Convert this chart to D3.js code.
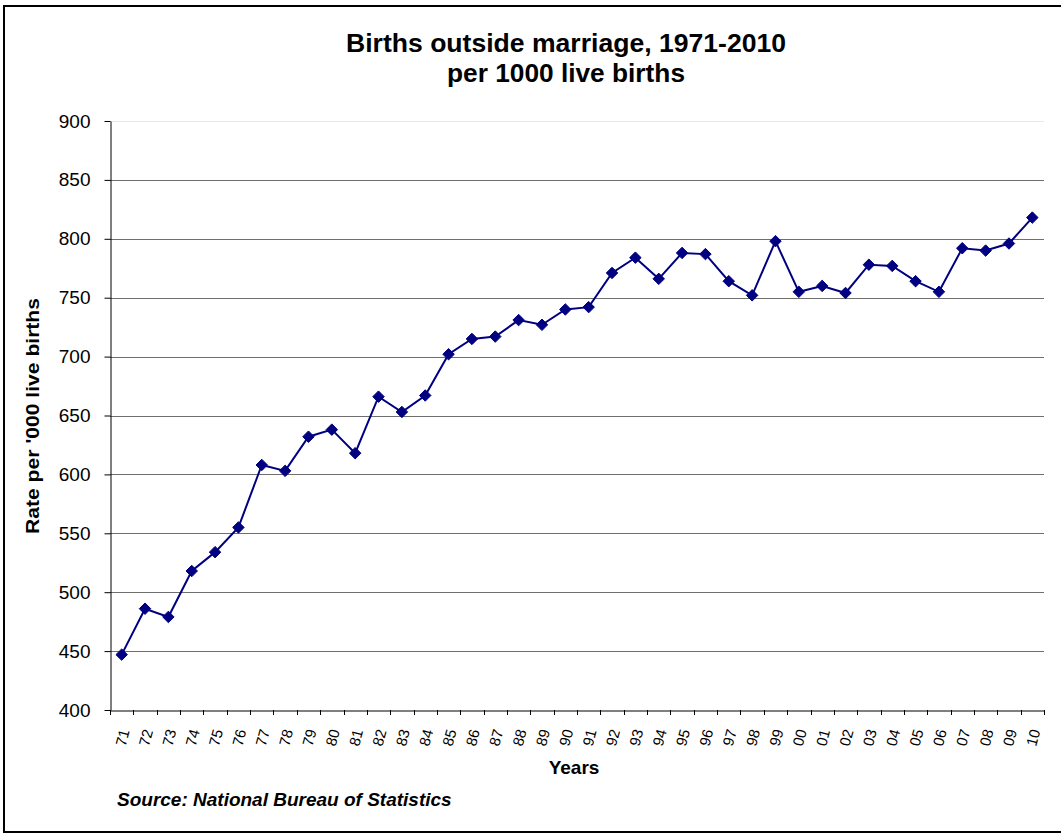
<!DOCTYPE html>
<html>
<head>
<meta charset="utf-8">
<script src="https://cdn.jsdelivr.net/npm/d3@7/dist/d3.min.js"></script>
<style>
  body { margin: 0; background: #fff; }
  svg { display: block; font-family: Arial, "Liberation Sans", sans-serif; }
</style>
</head>
<body>
<svg id="chart" width="1061" height="835"></svg>
<script>
// years shown as two-digit labels on the x axis
var yearLabels = ["71","72","73","74","75","76","77","78","79","80",
                  "81","82","83","84","85","86","87","88","89","90",
                  "91","92","93","94","95","96","97","98","99","00",
                  "01","02","03","04","05","06","07","08","09","10"];

// births outside marriage per 1000 live births
var rates = [447, 486, 479, 518, 534, 555, 608, 603, 632, 638,
             618, 666, 653, 667, 702, 715, 717, 731, 727, 740,
             742, 771, 784, 766, 788, 787, 764, 752, 798, 755,
             760, 754, 778, 777, 764, 755, 792, 790, 796, 818];

var yTicks = [400, 450, 500, 550, 600, 650, 700, 750, 800, 850, 900];

var svg = d3.select("#chart");

// outer chart frame (runs off the right/bottom like the original)
svg.append("rect")
  .attr("x", 4).attr("y", 6)
  .attr("width", 1100).attr("height", 826)
  .attr("fill", "none")
  .attr("stroke", "#000")
  .attr("stroke-width", 2);

var plotLeft = 110, plotRight = 1044, plotTop = 121, plotBottom = 710;

var x = d3.scaleBand()
  .domain(yearLabels)
  .range([plotLeft, plotRight]);

var y = d3.scaleLinear()
  .domain([400, 900])
  .range([plotBottom, plotTop]);

// gridlines
svg.append("g")
  .selectAll("line")
  .data(yTicks.filter(function(d) { return d > 400; }))
  .enter().append("line")
    .attr("x1", plotLeft)
    .attr("x2", plotRight)
    .attr("y1", function(d) { return Math.round(y(d)) + 0.5; })
    .attr("y2", function(d) { return Math.round(y(d)) + 0.5; })
    .attr("stroke", function(d) { return d == 900 ? "#e8e8e8" : "#6e6e6e"; })
    .attr("stroke-width", 1);

// y axis
var yAxis = svg.append("g")
  .attr("transform", "translate(" + (plotLeft + 0.5) + ",0)")
  .call(d3.axisLeft(y).tickValues(yTicks).tickSize(6).tickPadding(14).tickSizeOuter(0));
yAxis.select(".domain").attr("stroke", "#000");
yAxis.selectAll("text")
  .attr("font-size", 19)
  .attr("fill", "#000")
  .attr("font-family", "Arial, 'Liberation Sans', sans-serif");

// x axis
var xAxis = svg.append("g")
  .attr("transform", "translate(0," + (plotBottom + 0.5) + ")")
  .call(d3.axisBottom(x).tickSize(0).tickSizeOuter(0));
xAxis.select(".domain").attr("stroke", "#000");
xAxis.selectAll("text")
  .attr("font-size", 15)
  .attr("fill", "#000")
  .attr("font-family", "Arial, 'Liberation Sans', sans-serif")
  .attr("text-anchor", "end")
  .attr("dy", "0.35em")
  .attr("x", 0)
  .attr("y", 0)
  .attr("transform", "translate(3,19) rotate(-75)");

// category boundary ticks
svg.append("g")
  .selectAll("line")
  .data(d3.range(yearLabels.length + 1))
  .enter().append("line")
    .attr("x1", function(i) { return Math.round(plotLeft + i * x.step()) + 0.5; })
    .attr("x2", function(i) { return Math.round(plotLeft + i * x.step()) + 0.5; })
    .attr("y1", plotBottom)
    .attr("y2", plotBottom + 5)
    .attr("stroke", "#000");

// line + diamond markers
var line = d3.line()
  .x(function(d, i) { return x(yearLabels[i]) + x.bandwidth() / 2; })
  .y(function(d) { return y(d); });

svg.append("path")
  .datum(rates)
  .attr("d", line)
  .attr("fill", "none")
  .attr("stroke", "#000080")
  .attr("stroke-width", 2);

svg.append("g")
  .selectAll("path")
  .data(rates)
  .enter().append("path")
    .attr("d", d3.symbol().type(d3.symbolDiamond2).size(84))
    .attr("transform", function(d, i) {
      return "translate(" + (x(yearLabels[i]) + x.bandwidth() / 2) + "," + y(d) + ")";
    })
    .attr("fill", "#000080")
    .attr("stroke", "#000080")
    .attr("stroke-width", 1);

// titles
svg.append("text")
  .attr("x", 566).attr("y", 52)
  .attr("text-anchor", "middle")
  .attr("font-size", 25).attr("font-weight", "bold")
  .attr("textLength", 440).attr("lengthAdjust", "spacingAndGlyphs")
  .text("Births outside marriage, 1971-2010");
svg.append("text")
  .attr("x", 566).attr("y", 82)
  .attr("text-anchor", "middle")
  .attr("font-size", 25).attr("font-weight", "bold")
  .attr("textLength", 238).attr("lengthAdjust", "spacingAndGlyphs")
  .text("per 1000 live births");

svg.append("text")
  .attr("transform", "translate(39,416) rotate(-90)")
  .attr("text-anchor", "middle")
  .attr("font-size", 19).attr("font-weight", "bold")
  .attr("textLength", 236).attr("lengthAdjust", "spacingAndGlyphs")
  .text("Rate per '000 live births");

svg.append("text")
  .attr("x", 574).attr("y", 774)
  .attr("text-anchor", "middle")
  .attr("font-size", 19).attr("font-weight", "bold")
  .text("Years");

svg.append("text")
  .attr("x", 117).attr("y", 806)
  .attr("font-size", 19).attr("font-weight", "bold").attr("font-style", "italic")
  .text("Source: National Bureau of Statistics");
</script>
</body>
</html>
